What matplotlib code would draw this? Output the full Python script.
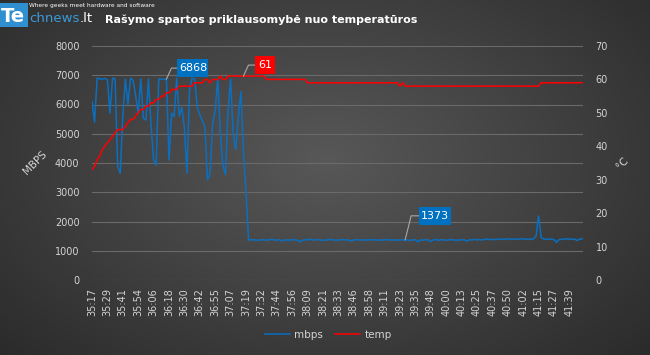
import numpy as np
import matplotlib
matplotlib.use('Agg')
import matplotlib.pyplot as plt
from matplotlib.lines import Line2D
from matplotlib.patches import Rectangle

# x axis labels, one every 6 samples
time_labels = ['35:17', '35:29', '35:41', '35:54', '36:06', '36:18', '36:30', '36:42',
               '36:55', '37:07', '37:19', '37:32', '37:44', '37:56', '38:09', '38:21',
               '38:33', '38:46', '38:58', '39:11', '39:23', '39:35', '39:48', '40:00',
               '40:13', '40:25', '40:37', '40:50', '41:02', '41:15', '41:27', '41:39']

mbps = [6100, 5400, 6900, 6880, 6870, 6890, 6850, 5700, 6900, 6880,
        3870, 3650, 5600, 6870, 6000, 6900, 6830, 6300, 5700, 6870,
        5530, 5470, 6870, 5300, 4100, 3930, 6870, 6870, 6860, 6868,
        4100, 5700, 5580, 6900, 5600, 5900, 5200, 3650, 6500, 6900,
        6870, 5900, 5650, 5450, 5240, 3420, 3650, 5360, 5810, 6900,
        5000, 3930, 3600, 5800, 6870, 5000, 4450, 5580, 6440, 4400,
        3000,
        1360, 1380, 1370, 1370, 1350, 1380, 1370, 1360, 1370, 1390,
        1370, 1360, 1380, 1330, 1370, 1370, 1360, 1380, 1370, 1370,
        1300, 1350, 1380, 1370, 1400, 1360, 1370, 1380, 1370, 1350,
        1370, 1370, 1390, 1370, 1360, 1370, 1370, 1380, 1370, 1370,
        1330, 1370, 1380, 1370, 1370, 1360, 1370, 1370, 1380, 1370,
        1370, 1360, 1370, 1380, 1370, 1370, 1370, 1360, 1370, 1370,
        1370, 1373, 1370, 1350, 1370, 1380, 1300, 1370, 1360, 1380,
        1370, 1320, 1370, 1390, 1350, 1380, 1370, 1360, 1370, 1380,
        1370, 1360, 1370, 1370, 1380, 1330, 1370, 1370, 1390, 1370,
        1380, 1370, 1390, 1400, 1380, 1390, 1380, 1400, 1390, 1390,
        1400, 1410, 1390, 1400, 1390, 1400, 1410, 1400, 1400, 1390,
        1400, 1410, 1500, 2190, 1450, 1400, 1400, 1390, 1400, 1380,
        1290, 1380, 1390, 1400, 1410, 1400, 1390, 1400, 1350, 1400,
        1410]

temp = [33, 34, 36, 37, 39, 40, 41, 42, 43, 44,
        45, 45, 45, 46, 47, 48, 48, 49, 50, 51,
        51, 52, 52, 53, 53, 54, 54, 55, 55, 56,
        56, 57, 57, 57, 58, 58, 58, 58, 58, 58,
        59, 59, 59, 59, 60, 60, 59, 60, 60, 60,
        61, 60, 60, 61, 61, 61, 61, 61, 61, 61,
        61, 61, 61, 61, 61, 61, 61, 61, 60, 60,
        60, 60, 60, 60, 60, 60, 60, 60, 60, 60,
        60, 60, 60, 60, 59, 59, 59, 59, 59, 59,
        59, 59, 59, 59, 59, 59, 59, 59, 59, 59,
        59, 59, 59, 59, 59, 59, 59, 59, 59, 59,
        59, 59, 59, 59, 59, 59, 59, 59, 59, 59,
        58, 59, 58, 58, 58, 58, 58, 58, 58, 58,
        58, 58, 58, 58, 58, 58, 58, 58, 58, 58,
        58, 58, 58, 58, 58, 58, 58, 58, 58, 58,
        58, 58, 58, 58, 58, 58, 58, 58, 58, 58,
        58, 58, 58, 58, 58, 58, 58, 58, 58, 58,
        58, 58, 58, 58, 58, 59, 59, 59, 59, 59,
        59, 59, 59, 59, 59, 59, 59, 59, 59, 59,
        59, 59]

mbps_left_ticks = [0, 1000, 2000, 3000, 4000, 5000, 6000, 7000, 8000]
temp_ticks = [0, 10, 20, 30, 40, 50, 60, 70]

blue = '#0b6fc0'
red = '#ff0000'
txt = '#d4d4d4'
grid_c = '#6a6a6a'

fig = plt.figure(figsize=(6.5, 3.55), dpi=100)
W, H = 650, 355

# radial grey background
bg = fig.add_axes([0, 0, 1, 1], zorder=-10)
yy, xx = np.mgrid[0:1:355j, 0:1:650j]
d = np.sqrt(((xx - 0.5) / 0.6) ** 2 + ((yy - 0.55) / 0.7) ** 2)
val = np.clip(0.345 - 0.155 * d, 0.15, 0.4)
bg.imshow(np.dstack([val, val, val]), aspect='auto', extent=[0, 1, 0, 1], origin='lower')
bg.axis('off')

ax = fig.add_axes([92 / W, 1 - 280 / H, 491 / W, 234 / H])
ax.patch.set_alpha(0)
x = np.arange(len(mbps))
ax.plot(x, mbps, color=blue, lw=1.1, zorder=3)
ax.set_ylim(0, 8000)
ax.set_xlim(0, 191.3)
ax.set_yticks(mbps_left_ticks)
ax.set_yticklabels([str(v) for v in mbps_left_ticks])
ax.set_xticks(np.arange(0, len(mbps), 6)[:len(time_labels)])
ax.set_xticklabels(time_labels, rotation=90)
ax.grid(axis='y', color=grid_c, lw=0.8)
ax.set_axisbelow(True)
for s in ax.spines.values():
    s.set_visible(False)
ax.tick_params(length=0, colors=txt, labelsize=7)
ax.tick_params(axis='y', pad=9)
ax.tick_params(axis='x', pad=6)

ax2 = ax.twinx()
ax2.plot(x, temp, color=red, lw=1.1, zorder=4)
ax2.set_ylim(0, 70)
ax2.set_yticks(temp_ticks)
ax2.tick_params(length=0, colors=txt, labelsize=7, pad=9)
for s in ax2.spines.values():
    s.set_visible(False)


def data_label(axis, xv, yv, text, fc, dxe, dy, dxb, bw, bh=18):
    # leader line: point -> elbow -> box, in pixel offsets
    px, py = axis.transData.transform((xv, yv))
    pts = np.array([[px, py], [px + dxe, py + dy], [px + dxb, py + dy]])
    f = fig.transFigure.inverted().transform(pts)
    fig.add_artist(Line2D(f[:, 0], f[:, 1], color='#a8a8a8', lw=0.8,
                          transform=fig.transFigure, zorder=6))
    bx0, by0 = fig.transFigure.inverted().transform((px + dxb, py + dy - bh / 2))
    fig.patches.append(Rectangle((bx0, by0), bw / W, bh / H, transform=fig.transFigure,
                                 fc=fc, ec='none', zorder=7))
    cx, cy = fig.transFigure.inverted().transform((px + dxb + bw / 2, py + dy))
    fig.text(cx, cy, text, color='white', fontsize=8, ha='center', va='center', zorder=8)


data_label(ax, 29, mbps[29], '6868', '#0070c0', 5, 11, 11, 31)
data_label(ax2, 59, temp[59], '61', '#ff0000', 5, 11, 12, 20)
data_label(ax, 122, mbps[122], '1373', '#0070c0', 6, 24, 14, 32)

# axis titles
fig.text(35 / W, 1 - 163 / H, 'MBPS', rotation=45, color=txt, fontsize=7.5,
         ha='center', va='center')
fig.text(622 / W, 1 - 163 / H, '°C', rotation=45, color=txt, fontsize=7.5,
         ha='center', va='center')

# legend
handles = [Line2D([], [], color=blue, lw=1.1), Line2D([], [], color=red, lw=1.1)]
fig.legend(handles, ['mbps', 'temp'], loc='center', bbox_to_anchor=(328 / W, 1 - 335 / H),
           ncol=2, frameon=False, fontsize=7.5, labelcolor=txt, handlelength=2.4,
           handletextpad=0.4, columnspacing=1.2)

# logo and title
fig.patches.append(Rectangle((0, 1 - 27 / H), 28 / W, 24 / H, transform=fig.transFigure,
                             fc='#2f8fd0', ec='none', zorder=5))
fig.text(1 / W, 1 - 16 / H, 'Te', color='white', fontsize=14, fontweight='bold',
         va='center', ha='left', zorder=6)
fig.text(29 / W, 1 - 18 / H, 'chnews', color='#3a9ad9', fontsize=9.5,
         va='center', ha='left')
fig.text(80 / W, 1 - 18 / H, '.lt', color='white', fontsize=9.5,
         va='center', ha='left')
fig.text(29 / W, 1 - 6 / H, 'Where geeks meet hardware and software', color='white',
         fontsize=4.2, va='center', ha='left')
fig.text(105 / W, 1 - 20 / H, 'Rašymo spartos priklausomybė nuo temperatūros',
         color='white', fontsize=8, fontweight='bold', va='center', ha='left')

fig.savefig('out.png', dpi=100)
